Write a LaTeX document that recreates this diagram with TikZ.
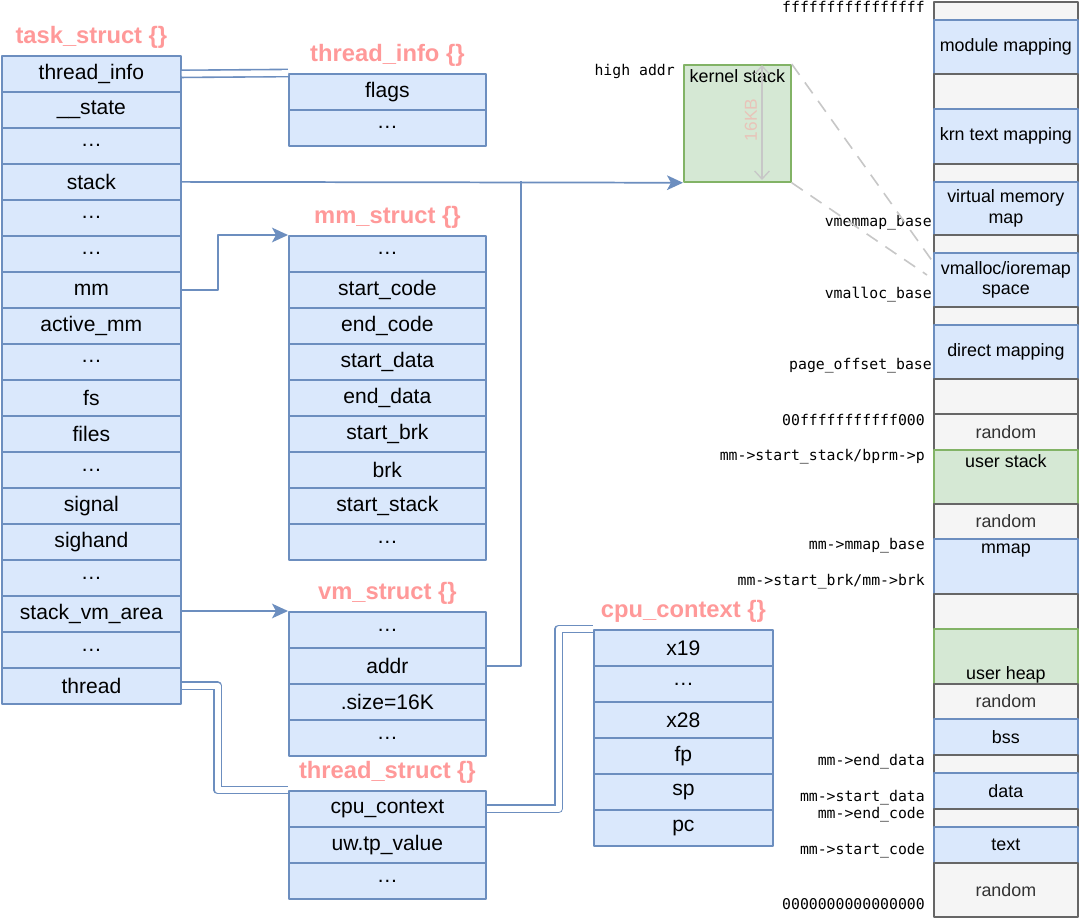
\documentclass[tikz,border=0pt]{standalone}
\usepackage{fontspec}
\setmainfont{Liberation Sans}
\setmonofont{DejaVu Sans Mono}
\usetikzlibrary{arrows.meta,positioning}
\definecolor{bluebg}{HTML}{DAE8FC}
\definecolor{bluebd}{HTML}{6C8EBF}
\definecolor{greenbg}{HTML}{D5E8D4}
\definecolor{greenbd}{HTML}{82B366}
\definecolor{graybg}{HTML}{F5F5F5}
\definecolor{graybd}{HTML}{666666}
\definecolor{titlered}{HTML}{FF9999}
\tikzset{
	fld/.style={draw=bluebd, fill=bluebg, line width=1.3pt, minimum width=147.75pt,
		minimum height=27pt, inner sep=0pt, anchor=north west, font=\fontsize{15.8}{18}\selectfont},
	ttl/.style={text=titlered, yshift=13.5pt, font=\bfseries\fontsize{17.8}{20}\selectfont},
	seg/.style={line width=1.3pt, minimum width=108pt, inner sep=0pt, anchor=north west,
		align=center, font=\fontsize{13.4}{15.5}\selectfont},
	gry/.style={draw=graybd, fill=graybg, text=black!80},
	blu/.style={draw=bluebd, fill=bluebg},
	grn/.style={draw=greenbd, fill=greenbg},
	segtxt/.style={font=\fontsize{13.4}{15.5}\selectfont},
	addr/.style={anchor=east, inner sep=0pt, font=\ttfamily\fontsize{11.1}{12}\selectfont},
	wire/.style={draw=bluebd, line width=1.3pt},
	arr/.style={wire, -{Stealth[length=12pt, width=11pt, inset=3pt]}},
	link/.style={draw=bluebd, line width=1.2pt, double=white, double distance=4.2pt},
	dashline/.style={draw=black!22, line width=1.2pt, dash pattern=on 10pt off 7pt},
}
\begin{document}
\begin{tikzpicture}[x=0.75pt, y=-0.75pt, line join=round]
	\useasboundingbox[fill=white] (0,0) rectangle (1080,917);
	\foreach \t [count=\i] in {thread\_info, \_\_state, \ldots, stack, \ldots, \ldots, mm, active\_mm,
		\ldots, fs, files, \ldots, signal, sighand, \ldots, stack\_vm\_area, \ldots, thread}
		\node[fld, minimum width=134.25pt] (ts\i) at (1,{55+36*(\i-1)}) {\t};
	\foreach \t [count=\i] in {flags, \ldots}
		\node[fld] (ti\i) at (288,{73+36*(\i-1)}) {\t};
	\foreach \t [count=\i] in {\ldots, start\_code, end\_code, start\_data, end\_data, start\_brk,
		brk, start\_stack, \ldots}
		\node[fld] (mm\i) at (288,{235+36*(\i-1)}) {\t};
	\foreach \t [count=\i] in {\ldots, addr, .size=16K, \ldots}
		\node[fld] (vm\i) at (288,{611+36*(\i-1)}) {\t};
	\foreach \t [count=\i] in {cpu\_context, uw.tp\_value, \ldots}
		\node[fld] (th\i) at (288,{790+36*(\i-1)}) {\t};
	\foreach \t [count=\i] in {x19, \ldots, x28, fp, sp, pc}
		\node[fld, minimum width=134.25pt] (cc\i) at (593,{629+36*(\i-1)}) {\t};
	\node[ttl] (tsT) at (ts1.north) {task\_struct \{\}};
	\node[ttl] (tiT) at (ti1.north) {thread\_info \{\}};
	\node[ttl] (mmT) at (mm1.north) {mm\_struct \{\}};
	\node[ttl] (vmT) at (vm1.north) {vm\_struct \{\}};
	\node[ttl] (thT) at (th1.north) {thread\_struct \{\}};
	\node[ttl] (ccT) at (cc1.north) {cpu\_context \{\}};

	\node[draw=greenbd, fill=greenbg, line width=1.3pt, minimum width=80.25pt, minimum height=87.75pt,
		anchor=north west] (ks) at (683,64) {};
	\node[segtxt, below=1pt of ks.north] (ksT) {kernel stack};
	\draw[black!22, line width=1pt, {Straight Barb[length=6pt, width=11pt]}-{Straight Barb[length=6pt, width=11pt]}]
		(762,65) -- (762,180);
	\node[text=titlered!45!greenbg, rotate=90, font=\fontsize{13}{15}\selectfont] (ksW) at (751,120) {16KB};

	\foreach \a/\b/\k/\t [count=\i] in {1/19/gry/, 19/73/blu/module mapping, 73/108/gry/,
		108/163/blu/krn text mapping, 163/181/gry/, 181/234/blu/{virtual memory\\map}, 234/252/gry/,
		252/306/blu/{vmalloc/ioremap\\space}, 306/324/gry/, 324/378/blu/direct mapping, 378/413/gry/,
		413/449/gry/random, 449/503/grn/, 503/538/gry/random, 538/593/blu/, 593/628/gry/,
		628/683/grn/, 683/718/gry/random, 718/754/blu/bss, 754/772/gry/, 772/808/blu/data,
		808/826/gry/, 826/862/blu/text, 862/916/gry/random}
		\node[seg, \k, minimum height={(\b-\a)*0.75pt}] (vs\i) at (933,\a) {\t};
	\node[segtxt, anchor=north, inner sep=4pt] (usT) at (vs13.north) {user stack};
	\node[segtxt, anchor=north, inner sep=4pt] (mpT) at (vs15.north) {mmap};
	\node[segtxt, anchor=south, inner sep=1pt] (uhT) at (vs17.south) {user heap};

	\foreach \y/\x/\t [count=\i] in {7/925/ffffffffffffffff, 71/675/high addr, 223/932/vmemmap\_base,
		295/932/vmalloc\_base, 366/932/page\_offset\_base, 420/925/00fffffffffff000,
		457/925/{mm->start\_stack/bprm->p}, 546/925/{mm->mmap\_base}, 582/925/{mm->start\_brk/mm->brk},
		762/925/{mm->end\_data}, 798/925/{mm->start\_data}, 815/925/{mm->end\_code},
		851/925/{mm->start\_code}, 904/925/0000000000000000}
		\node[addr] (ad\i) at (\x,\y) {\t};

	\coordinate (jn) at (521,181);
	\coordinate (vmA) at (933,262);
	\coordinate (vmB) at (927,275);
	\draw[dashline] (ks.north east) -- (vmA);
	\draw[dashline] (ks.south east) -- (vmB);
	\draw[link] (ts1.east) -- (ti1.north west);
	\draw[arr] (ts4.east) -- (ks.south west);
	\draw[wire] (vm2.east) -| (jn);
	\draw[arr] (ts7.east) -- ++(36,0) |- (mm1.north west);
	\draw[arr] (ts16.east |- vm1.north west) -- (vm1.north west);
	\draw[link] (ts18.east) -- ++(36,0) |- (th1.north west);
	\draw[link] (th1.east) -- ++(72,0) |- (cc1.north west);
\end{tikzpicture}
\end{document}
